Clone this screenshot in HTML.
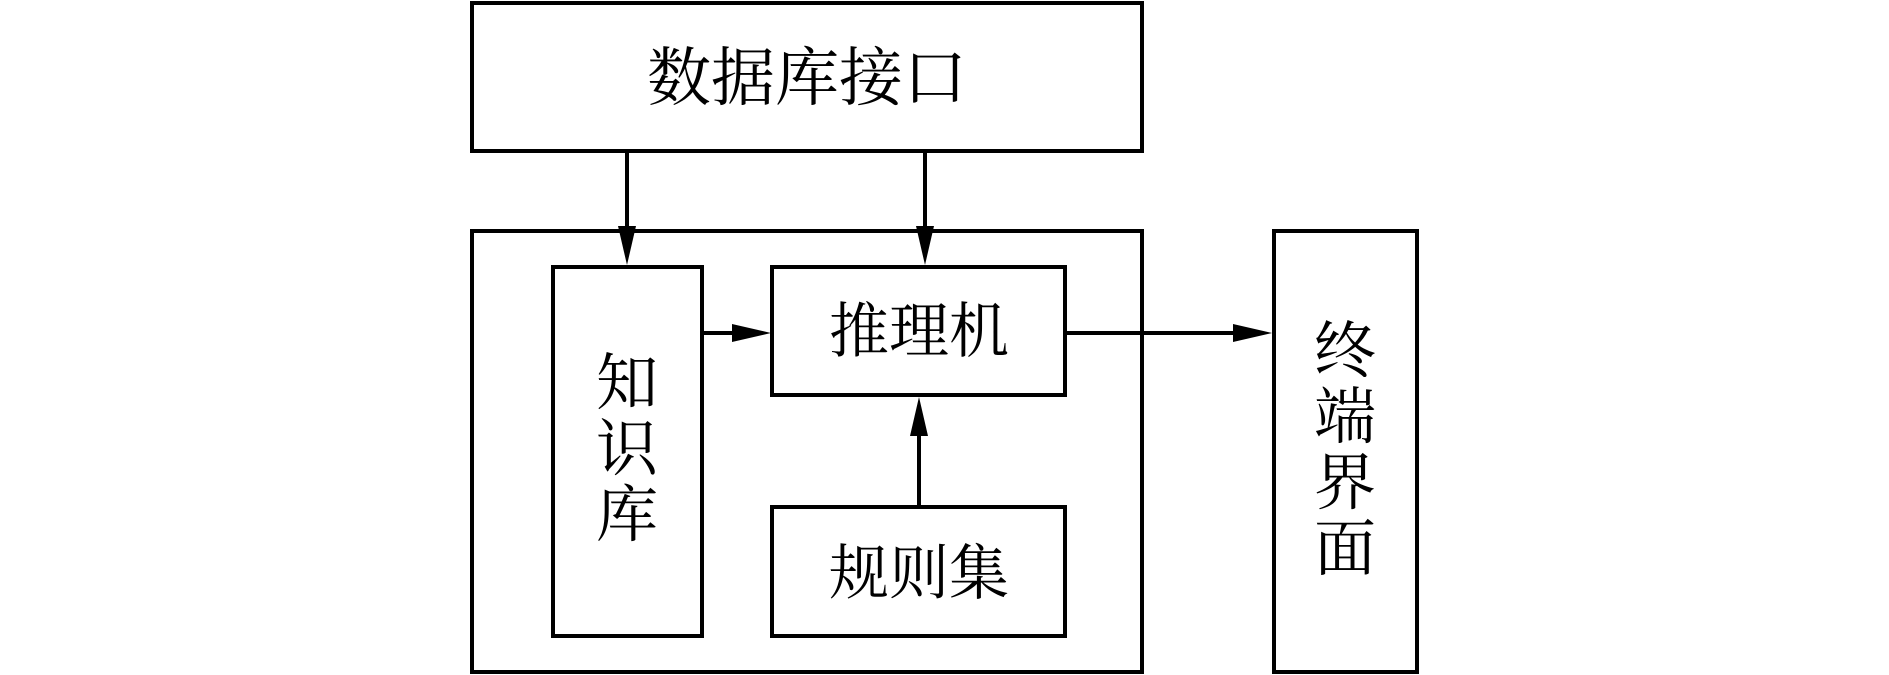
<!DOCTYPE html>
<html><head><meta charset="utf-8"><style>
html,body{margin:0;padding:0;background:#fff;}
svg{display:block;}
text{font-family:"Liberation Serif","Noto Serif CJK SC",serif;fill:#000;}
</style></head><body>
<svg width="1889" height="675" viewBox="0 0 1889 675" xmlns="http://www.w3.org/2000/svg">
<defs>
<marker id="a" markerWidth="10" markerHeight="10" refX="10" refY="5" orient="auto" markerUnits="userSpaceOnUse" viewBox="0 0 10 10">
</marker>
</defs>
<g fill="none" stroke="#000" stroke-width="4">
<rect x="472" y="3" width="670" height="148"/>
<rect x="472" y="231" width="670" height="441"/>
<rect x="553" y="267" width="149" height="369"/>
<rect x="772" y="267" width="293" height="128"/>
<rect x="772" y="507" width="293" height="129"/>
<rect x="1274" y="231" width="143" height="441"/>
<line x1="627" y1="151" x2="627" y2="230"/>
<line x1="925" y1="151" x2="925" y2="230"/>
<line x1="702" y1="333" x2="735" y2="333"/>
<line x1="919" y1="507" x2="919" y2="432"/>
<line x1="1065" y1="333" x2="1236" y2="333"/>
</g>
<g fill="#000">
<polygon points="618,226 636,226 627,265"/>
<polygon points="916,226 934,226 925,265"/>
<polygon points="732,324 732,342 771,333"/>
<polygon points="910,436 928,436 919,397"/>
<polygon points="1233,324 1233,342 1272,333"/>
</g>
<text x="807" y="100" font-size="64" text-anchor="middle">数据库接口</text>
<text x="919" y="352" font-size="60" text-anchor="middle">推理机</text>
<text x="919" y="594" font-size="60" text-anchor="middle">规则集</text>
<g font-size="62" text-anchor="middle">
<text x="627" y="404">知</text>
<text x="627" y="470">识</text>
<text x="627" y="536">库</text>
<text x="1345" y="372">终</text>
<text x="1345" y="438">端</text>
<text x="1345" y="504">界</text>
<text x="1345" y="570">面</text>
</g>
</svg>
</body></html>
